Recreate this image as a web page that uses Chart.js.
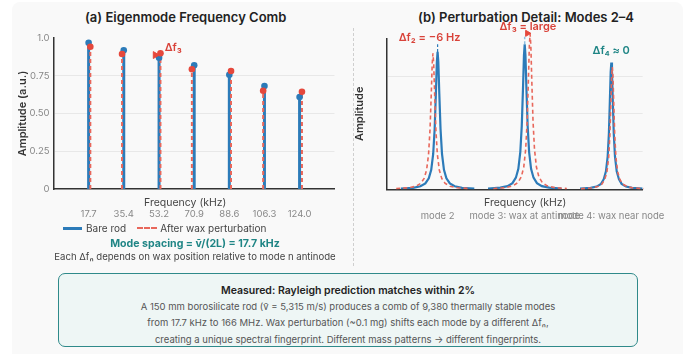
<!DOCTYPE html>
<html>
<head>
<meta charset="utf-8">
<script src="https://cdn.jsdelivr.net/npm/chart.js@4.4.1/dist/chart.umd.min.js"></script>
<style>
  html, body { margin:0; padding:0; background:#ffffff; font-family: Inter, "Noto Sans", sans-serif; }
  #page { position:relative; width:689px; height:354px; overflow:hidden; }
  #card { position:absolute; left:12px; top:2px; width:671px; height:360px; background:#f9f9f9; border-radius:8px; }
  .title { position:absolute; top:9px; font-size:13px; font-weight:600; color:#222; text-align:center; white-space:nowrap; }
  .wrap { position:absolute; top:0; }
  .axisTitle { position:absolute; font-size:10.5px; color:#444; text-align:center; white-space:nowrap; }
  #divider { position:absolute; left:353px; top:28px; height:238px; border-left:1px dashed #cfcfcf; }
  #legend { position:absolute; left:63px; top:222px; display:flex; align-items:center; font-size:10px; color:#444; white-space:nowrap; }
  .swatch { display:inline-block; width:19px; height:0; margin-right:4px; }
  #spacing { position:absolute; left:0; width:390px; top:237px; text-align:center; font-size:10.6px; font-weight:700; color:#1f8585; white-space:nowrap; }
  #each { position:absolute; left:0; width:390px; top:251px; text-align:center; font-size:9.6px; color:#444; white-space:nowrap; }
  #box { position:absolute; left:58px; top:273px; width:578px; height:72px; border:1.5px solid #2f8a8a; border-radius:7px; background:#eef6f5; text-align:center; }
  #box .h { margin-top:9px; font-size:10.5px; font-weight:600; color:#222; line-height:16px; }
  #box .t { font-size:9.5px; color:#555; line-height:16.3px; }
</style>
</head>
<body>
<div id="page">
  <div id="card"></div>
  <div class="title" style="left:85px;width:200px;">(a) Eigenmode Frequency Comb</div>
  <div class="title" style="left:418px;width:210px;">(b) Perturbation Detail: Modes 2–4</div>
  <div id="divider"></div>
  <div class="wrap" style="left:0;"><canvas id="combChart" width="345" height="228"></canvas></div>
  <div class="wrap" style="left:345px;"><canvas id="detailChart" width="344" height="228"></canvas></div>
  <div class="axisTitle" style="left:144px;width:80px;top:196px;">Frequency (kHz)</div>
  <div class="axisTitle" style="left:484px;width:80px;top:196px;">Frequency (kHz)</div>
  <div id="legend">
    <span class="swatch" style="border-top:3px solid #2c7bb9;"></span><span style="margin-right:11px;">Bare rod</span>
    <span class="swatch" style="border-top:2px dashed #e8675b;width:20px;margin-right:3px;"></span><span>After wax perturbation</span>
  </div>
  <div id="spacing">Mode spacing = v̄/(2L) = 17.7 kHz</div>
  <div id="each">Each Δfₙ depends on wax position relative to mode n antinode</div>
  <div id="box">
    <div class="h">Measured: Rayleigh prediction matches within 2%</div>
    <div class="t">A 150 mm borosilicate rod (v̄ = 5,315 m/s) produces a comb of 9,380 thermally stable modes</div>
    <div class="t">from 17.7 kHz to 166 MHz. Wax perturbation (~0.1 mg) shifts each mode by a different Δfₙ,</div>
    <div class="t">creating a unique spectral fingerprint. Different mass patterns → different fingerprints.</div>
  </div>
</div>

<script>
// ---------- panel (a) data ----------
const modeFreqs = [17.7, 35.4, 53.2, 70.9, 88.6, 106.3, 124.0];
const modeTickLabels = ['17.7', '35.4', '53.2', '70.9', '88.6', '106.3', '124.0'];
const bareAmp = [0.969, 0.919, 0.870, 0.819, 0.757, 0.682, 0.609];
const waxFreqs = [18.56, 34.54, 53.9, 69.74, 89.46, 105.65, 125.2];
const waxAmp = [0.942, 0.894, 0.899, 0.793, 0.781, 0.651, 0.644];
const yTickLabels = {0: '0', 0.25: '0.25', 0.5: '0.50', 0.75: '0.75', 1: '1.0'};

// ---------- panel (b) data ----------
const detailCenters = [35.4, 53.2, 70.9];
const detailLabels = ['mode 2', 'mode 3: wax at antinode', 'mode 4: wax near node'];

const m2BareX = [27.9, 30.4, 31.9, 32.9, 33.6, 34.1, 34.5, 34.8, 35.05, 35.25, 35.4, 35.55, 35.75, 36.0, 36.3, 36.7, 37.2, 37.9, 38.9, 40.4, 42.9];
const m2BareY = [0.005, 0.010, 0.020, 0.039, 0.073, 0.129, 0.234, 0.399, 0.633, 0.843, 0.91, 0.843, 0.633, 0.399, 0.234, 0.129, 0.073, 0.039, 0.020, 0.010, 0.005];
const m2WaxX = [26.95, 29.45, 30.95, 31.95, 32.65, 33.15, 33.55, 33.85, 34.1, 34.3, 34.45, 34.6, 34.8, 35.05, 35.35, 35.75, 36.25, 36.95, 37.95, 39.45, 41.95];
const m2WaxY = [0.005, 0.010, 0.020, 0.039, 0.072, 0.128, 0.231, 0.394, 0.626, 0.833, 0.90, 0.833, 0.626, 0.394, 0.231, 0.128, 0.072, 0.039, 0.020, 0.010, 0.005];

const m3BareX = [45.7, 48.2, 49.7, 50.7, 51.4, 51.9, 52.3, 52.6, 52.85, 53.05, 53.2, 53.35, 53.55, 53.8, 54.1, 54.5, 55.0, 55.7, 56.7, 58.2, 60.7];
const m3BareY = [0.005, 0.011, 0.021, 0.041, 0.077, 0.136, 0.247, 0.420, 0.668, 0.889, 0.96, 0.889, 0.668, 0.420, 0.247, 0.136, 0.077, 0.041, 0.021, 0.011, 0.005];
const m3WaxX = [46.8, 49.3, 50.8, 51.8, 52.5, 53.0, 53.4, 53.7, 53.95, 54.15, 54.3, 54.45, 54.65, 54.9, 55.2, 55.6, 56.1, 56.8, 57.8, 59.3, 61.8];
const m3WaxY = [0.005, 0.011, 0.023, 0.044, 0.082, 0.146, 0.265, 0.451, 0.717, 0.954, 1.03, 0.954, 0.717, 0.451, 0.265, 0.146, 0.082, 0.044, 0.023, 0.011, 0.005];

const m4BareX = [64.5, 66.65, 67.9, 68.8, 69.35, 69.8, 70.15, 70.4, 70.6, 70.77, 70.9, 71.03, 71.2, 71.4, 71.65, 72.0, 72.45, 73.0, 73.9, 75.15, 77.3];
const m4BareY = [0.004, 0.009, 0.018, 0.036, 0.067, 0.119, 0.216, 0.368, 0.585, 0.778, 0.84, 0.778, 0.585, 0.368, 0.216, 0.119, 0.067, 0.036, 0.018, 0.009, 0.004];
const m4WaxX = [64.7, 66.85, 68.1, 69.0, 69.55, 70.0, 70.35, 70.6, 70.8, 70.97, 71.1, 71.23, 71.4, 71.6, 71.85, 72.2, 72.65, 73.2, 74.1, 75.35, 77.5];
const m4WaxY = [0.004, 0.009, 0.018, 0.035, 0.065, 0.115, 0.208, 0.355, 0.564, 0.750, 0.81, 0.750, 0.564, 0.355, 0.208, 0.115, 0.065, 0.035, 0.018, 0.009, 0.004];

// ---------- colours ----------
const BLUE = '#2c7bb9';
const RED = '#e8675b';
const RED_DOT = '#e5483c';
const RED_TEXT = '#d9433a';
const TEAL = '#1f8585';

Chart.defaults.font.family = 'Inter, "Noto Sans", sans-serif';
Chart.defaults.animation = false;

// draws text at data coordinates
const notesPlugin = {
    id: 'notes',
    afterDatasetsDraw(chart, args, opts) {
        const ctx = chart.ctx;
        const xs = chart.scales.x, ys = chart.scales.y;
        (opts.items || []).forEach(n => {
            ctx.save();
            ctx.font = '600 11px Inter, "Noto Sans", sans-serif';
            ctx.fillStyle = n.color;
            ctx.textAlign = n.align || 'center';
            ctx.textBaseline = 'middle';
            ctx.fillText(n.text, xs.getPixelForValue(n.x), ys.getPixelForValue(n.y));
            ctx.restore();
        });
    }
};

function stems(freqs, amps) {
    const pts = [];
    freqs.forEach((f, i) => {
        pts.push({x: f, y: 0}, {x: f, y: amps[i]}, {x: f, y: null});
    });
    return pts;
}
function pairs(xs, ys) {
    return xs.map((x, i) => ({x: x, y: ys[i]}));
}
function gridColor(c) {
    const v = c.tick.value;
    return (v > 0 && v < 1) ? '#e8e8e8' : 'rgba(0,0,0,0)';
}

// =========================================
// (a) COMB
// =========================================
new Chart(document.getElementById('combChart'), {
    type: 'line',
    data: {
        datasets: [
            { data: [{x: 51.3, y: 0.887}], showLine: false, pointStyle: 'triangle', rotation: 90,
              pointRadius: 4, backgroundColor: RED_DOT, borderColor: RED_DOT },
            { data: pairs(waxFreqs, waxAmp), showLine: false, pointRadius: 3.3,
              backgroundColor: RED_DOT, borderWidth: 0 },
            { data: pairs(modeFreqs, bareAmp), showLine: false, pointRadius: 3.3,
              backgroundColor: BLUE, borderWidth: 0 },
            { data: stems(waxFreqs, waxAmp), borderColor: RED, borderWidth: 2, borderDash: [4, 3],
              pointRadius: 0, spanGaps: false },
            { data: stems(modeFreqs, bareAmp), borderColor: BLUE, borderWidth: 3,
              pointRadius: 0, spanGaps: false }
        ]
    },
    options: {
        responsive: false,
        layout: { padding: { left: 12, top: 38, right: 10.5, bottom: 0 } },
        plugins: {
            legend: { display: false },
            tooltip: { enabled: false },
            notes: { items: [ { x: 56.0, y: 0.935, text: 'Δf₃', color: RED_TEXT, align: 'left' } ] }
        },
        scales: {
            x: {
                type: 'linear', min: 0, max: 141.6,
                afterBuildTicks: s => { s.ticks = modeFreqs.map(v => ({value: v})); },
                afterFit: s => { s.height = 228 - 189; },
                grid: { display: false, drawTicks: false },
                border: { display: true, color: '#333', width: 1.5 },
                ticks: { padding: 19, color: '#888', font: { size: 9.5 }, autoSkip: false, maxRotation: 0,
                         callback: (v, i) => modeTickLabels[i] }
            },
            y: {
                min: 0, max: 1,
                afterFit: s => { s.width = 53.5 - 12; },
                grid: { color: gridColor, drawTicks: false },
                border: { display: true, color: '#333', width: 1.5 },
                ticks: { stepSize: 0.25, padding: 4, color: '#888', font: { size: 9.5 },
                         callback: v => yTickLabels[v] },
                title: { display: true, text: 'Amplitude (a.u.)', color: '#333',
                         font: { size: 11, weight: '600' }, padding: { top: 4, bottom: 4 } }
            }
        }
    },
    plugins: [notesPlugin]
});

// =========================================
// (b) DETAIL
// =========================================
const redCurve = d => ({ data: d, borderColor: RED, borderWidth: 1.6, borderDash: [4, 3],
                         pointRadius: 0, tension: 0, clip: false });
const blueCurve = d => ({ data: d, borderColor: BLUE, borderWidth: 2.2,
                          pointRadius: 0, tension: 0 });

new Chart(document.getElementById('detailChart'), {
    type: 'line',
    data: {
        datasets: [
            { data: [{x: 53.75, y: 1.033}], showLine: false, pointStyle: 'triangle', rotation: 90,
              pointRadius: 3.5, backgroundColor: RED_DOT, borderColor: RED_DOT, clip: false },
            redCurve(pairs(m2WaxX, m2WaxY)),
            redCurve(pairs(m3WaxX, m3WaxY)),
            redCurve(pairs(m4WaxX, m4WaxY)),
            { data: [{x: 35.4, y: 0.91}, {x: 35.4, y: 0.96}], borderColor: BLUE, borderWidth: 1.2,
              borderDash: [3, 2], pointRadius: 0, clip: false },
            { data: [{x: 53.2, y: 0.96}, {x: 53.2, y: 1.01}], borderColor: '#8fbfe0', borderWidth: 1.5,
              borderDash: [3, 2], pointRadius: 0, clip: false },
            blueCurve(pairs(m2BareX, m2BareY)),
            blueCurve(pairs(m3BareX, m3BareY)),
            blueCurve(pairs(m4BareX, m4BareY))
        ]
    },
    options: {
        responsive: false,
        layout: { padding: { left: 4, top: 38.3, right: 25.7, bottom: 0 } },
        plugins: {
            legend: { display: false },
            tooltip: { enabled: false },
            notes: { items: [
                { x: 33.75, y: 1.007, text: 'Δf₂ = −6 Hz', color: RED_TEXT },
                { x: 53.85, y: 1.077, text: 'Δf₃ = large', color: RED_TEXT },
                { x: 70.86, y: 0.916, text: 'Δf₄ ≈ 0', color: TEAL }
            ] }
        },
        scales: {
            x: {
                type: 'linear', min: 25, max: 77.3,
                afterBuildTicks: s => { s.ticks = detailCenters.map(v => ({value: v})); },
                afterFit: s => { s.height = 228 - 189.3; },
                grid: { display: false, drawTicks: false },
                border: { display: true, color: '#333', width: 1.5 },
                ticks: { padding: 21.5, color: '#888', font: { size: 9.5 }, autoSkip: false,
                         maxRotation: 0, minRotation: 0, callback: (v, i) => detailLabels[i] }
            },
            y: {
                min: 0, max: 1,
                afterFit: s => { s.width = 41.7 - 4; },
                grid: { color: gridColor, drawTicks: false },
                border: { display: true, color: '#333', width: 1.5 },
                ticks: { stepSize: 0.25, display: false },
                title: { display: true, text: 'Amplitude', color: '#333',
                         font: { size: 11, weight: '600' }, padding: { top: 4, bottom: 4 } }
            }
        }
    },
    plugins: [notesPlugin]
});
</script>
</body>
</html>
